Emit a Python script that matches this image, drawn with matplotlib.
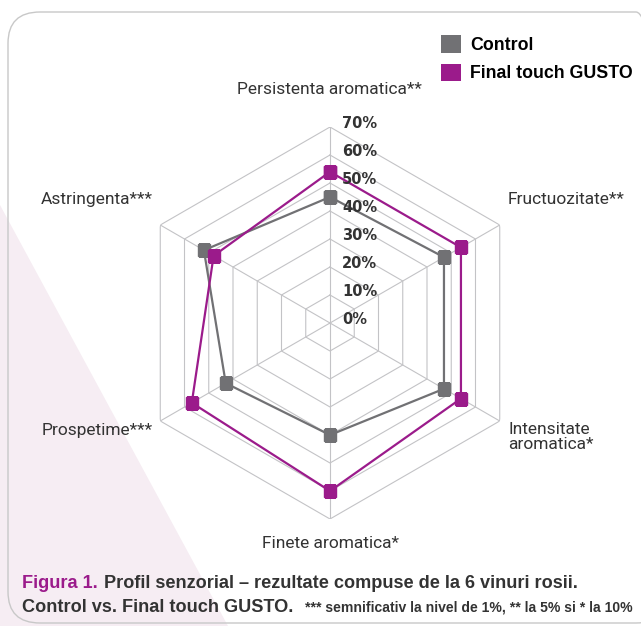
import numpy as np
import matplotlib.pyplot as plt
from matplotlib.patches import FancyBboxPatch, Polygon, Patch
from matplotlib.transforms import offset_copy

# data
categories = ["Persistenta aromatica**", "Fructuozitate**", "Intensitate\naromatica*",
              "Finete aromatica*", "Prospetime***", "Astringenta***"]
control = [45, 47, 47, 40, 43, 52]
gusto = [54, 54, 54, 60, 57, 48]
ticks = [0, 10, 20, 30, 40, 50, 60, 70]
series_names = ["Control", "Final touch GUSTO"]

GREY = "#717174"
PURPLE = "#9b1b8b"
GRID = "#c3c3c6"
TXT = "#333333"
COND = "Liberation Sans"

W, H = 641, 626
fig = plt.figure(figsize=(W / 100, H / 100), dpi=100)


def fx(px):
    return px / W


def fy(py):
    return 1 - py / H


# background decoration
fig.add_artist(Polygon([[0, fy(205)], [0, 0], [fx(228), 0]], closed=True,
                       transform=fig.transFigure, fc="#f6edf3", ec="none", zorder=0))
fig.add_artist(FancyBboxPatch((fx(8), fy(623)), fx(668) - fx(8), fy(12) - fy(623),
                              boxstyle="round,pad=0,rounding_size=0.05",
                              transform=fig.transFigure, fc="none", ec="#c8c8c8",
                              lw=1.0, zorder=1))

# radar axes
R = 196
ax = fig.add_axes([fx(330 - R), fy(323 + R), 2 * R / W, 2 * R / H], projection="polar")
ax.set_facecolor("none")
ax.set_theta_offset(np.pi / 2)
ax.set_theta_direction(-1)
ax.set_ylim(0, ticks[-1])
ax.grid(False)
ax.spines["polar"].set_visible(False)
ax.set_xticks([])
ax.set_yticks([])

theta = np.arange(len(categories)) * 2 * np.pi / len(categories)
closed = np.append(theta, theta[0])

for r in ticks[1:]:
    ax.plot(closed, [r] * len(closed), color=GRID, lw=0.8, zorder=1)
for t in theta:
    ax.plot([t, t], [0, ticks[-1]], color=GRID, lw=0.8, zorder=1)

ax.plot(closed, control + control[:1], color=GREY, lw=1.6, marker="s", ms=8, zorder=3)
ax.plot(closed, gusto + gusto[:1], color=PURPLE, lw=1.6, marker="s", ms=8, zorder=4)

trans = offset_copy(ax.transData, fig=fig, x=12, y=3, units="dots")
for v in ticks:
    ax.text(0, v, f"{v}%", transform=trans, ha="left", va="center", fontsize=10.5,
            fontweight="bold", color=TXT, family="DejaVu Sans", zorder=5)

# category labels
lab = dict(fontsize=12.5, color=TXT, family=["Roboto", "DejaVu Sans"])
fig.text(fx(329), fy(90), categories[0], ha="center", va="center", **lab)
fig.text(fx(508), fy(200), categories[1], ha="left", va="center", **lab)
fig.text(fx(508), fy(437), categories[2], ha="left", va="center", linespacing=1.0, **lab)
fig.text(fx(330), fy(543), categories[3], ha="center", va="center", **lab)
fig.text(fx(153), fy(430), categories[4], ha="right", va="center", **lab)
fig.text(fx(153), fy(200), categories[5], ha="right", va="center", **lab)

# legend
handles = [Patch(fc=GREY, ec="none"), Patch(fc=PURPLE, ec="none")]
fig.legend(handles, series_names, loc="upper left", bbox_to_anchor=(fx(432), fy(26)),
           frameon=False, borderpad=0, handlelength=1.15, handleheight=1.15,
           handletextpad=0.5, labelspacing=0.55,
           prop=dict(family=COND, weight="bold", size=12.8))

# caption
renderer = fig.canvas.get_renderer()


def chain(x, y, s, **kw):
    t = fig.text(x, y, s, ha="left", va="baseline", **kw)
    bb = t.get_window_extent(renderer)
    return fig.transFigure.inverted().transform((bb.x1, bb.y0))[0]


cap = dict(family=COND, fontweight="bold", fontsize=13.1)
x = chain(fx(22), fy(588), "Figura 1.", color=PURPLE, **cap)
chain(x + fx(6), fy(588), "Profil senzorial \u2013 rezultate compuse de la 6 vinuri rosii.",
      color=TXT, **cap)
x = chain(fx(22), fy(612), "Control vs. Final touch GUSTO.", color=TXT, **cap)
chain(x + fx(12), fy(612), "*** semnificativ la nivel de 1%, ** la 5% si * la 10%",
      color=TXT, family=COND, fontweight="bold", fontsize=10.1)

fig.savefig("out.png", dpi=100)
